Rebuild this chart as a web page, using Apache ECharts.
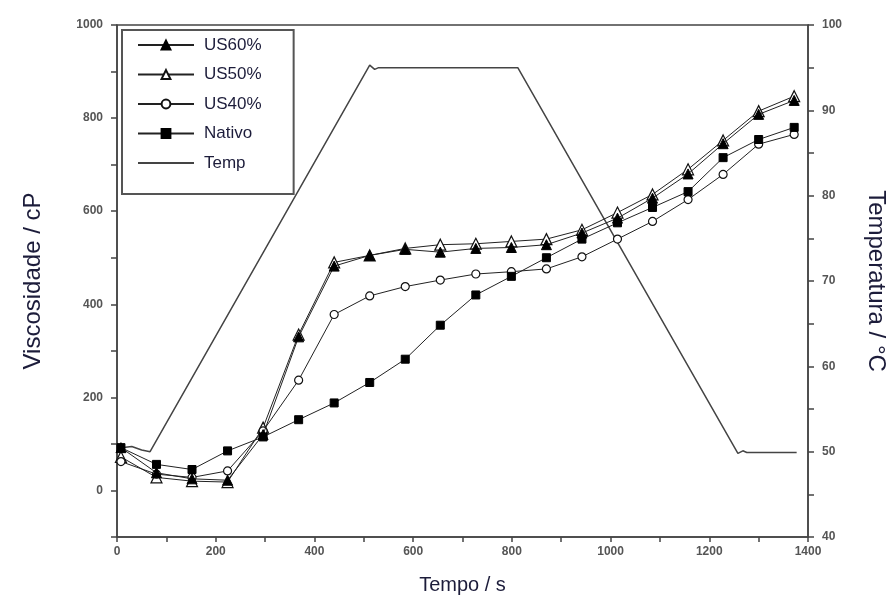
<!DOCTYPE html>
<html>
<head>
<meta charset="utf-8">
<script src="https://cdn.jsdelivr.net/npm/echarts@6/dist/echarts.min.js"></script>
<style>html,body{margin:0;padding:0;background:#fff}#c{width:894px;height:612px}</style>
</head>
<body>
<div id="c"></div>
<script>
// Time (s) for viscosity samples
const time = [8, 80, 152, 224, 296, 368, 440, 512, 584, 655, 727, 799, 870, 942, 1014, 1085, 1157, 1228, 1300, 1372];
// Viscosity (cP)
const us60 = [92, 38, 25, 22, 120, 330, 482, 505, 518, 512, 520, 522, 528, 553, 585, 628, 680, 745, 808, 838];
const us50 = [72, 28, 20, 18, 135, 335, 490, 505, 520, 528, 530, 535, 540, 560, 597, 636, 690, 752, 815, 847];
const us40 = [62, 35, 28, 42, 128, 237, 378, 418, 438, 452, 465, 470, 476, 502, 540, 578, 625, 679, 744, 765];
const nativo = [92, 56, 45, 85, 115, 152, 188, 232, 282, 355, 420, 460, 500, 540, 575, 608, 642, 715, 754, 780];
// Temperature profile
const tempTime = [0, 30, 50, 67, 512, 522, 530, 812, 1258, 1268, 1276, 1377];
const tempVal = [50.4, 50.6, 50.2, 50, 95.3, 94.8, 95, 95, 49.8, 50.1, 49.9, 49.9];
// Legend entries
const legendNames = ['US60%', 'US50%', 'US40%', 'Nativo', 'Temp'];

const pairs = (xs, ys) => xs.map((x, i) => [x, ys[i]]);
const FONT = 'Liberation Sans, Arial, sans-serif';
const AX = '#444';
const TITLE = '#1c1c3a';

const lineStyle = { color: '#222', width: 1 };

const chart = echarts.init(document.getElementById('c'));
chart.setOption({
  animation: false,
  backgroundColor: '#fff',
  grid: { left: 117, right: 86, top: 25, bottom: 75, outerBoundsMode: 'none', containLabel: false,
    show: true, borderColor: AX, borderWidth: 1.5, backgroundColor: 'transparent' },
  legend: {
    orient: 'vertical', left: 122, top: 30,
    padding: [6.5, 32, 22.5, 15],
    itemGap: 12.5, itemWidth: 56, itemHeight: 11,
    borderColor: '#555', borderWidth: 2, backgroundColor: '#fff',
    textStyle: { fontFamily: FONT, fontSize: 17, color: TITLE, padding: [0, 0, 0, 5] },
    data: legendNames.map(n => n === 'Temp' ? { name: n, itemStyle: { opacity: 0 } } : n)
  },
  xAxis: {
    type: 'value', min: 0, max: 1400, interval: 100,
    name: 'Tempo / s', nameLocation: 'middle', nameGap: 38,
    nameTextStyle: { fontFamily: FONT, fontSize: 20, color: TITLE },
    axisLine: { onZero: false, lineStyle: { color: AX, width: 1.5 } },
    axisTick: { inside: false, length: 5, lineStyle: { color: AX, width: 1.5 } },
    axisLabel: { margin: 9, fontFamily: FONT, fontSize: 12, fontWeight: 'bold', color: '#555',
      formatter: v => (v % 200 === 0 ? String(v) : '') },
    splitLine: { show: false }
  },
  yAxis: [
    {
      type: 'value', min: -100, max: 1000, interval: 100, position: 'left',
      name: 'Viscosidade / cP', nameLocation: 'middle', nameGap: 72, nameRotate: 90,
      nameTextStyle: { fontFamily: FONT, fontSize: 24, color: TITLE },
      axisLine: { show: true, onZero: false, lineStyle: { color: AX, width: 1.5 } },
      axisTick: { show: true, length: 6, lineStyle: { color: AX, width: 1.5 } },
      axisLabel: { margin: 14, fontFamily: FONT, fontSize: 12, fontWeight: 'bold', color: '#555',
        formatter: v => (v >= 0 && v % 200 === 0 ? String(v) : '') },
      splitLine: { show: false }
    },
    {
      type: 'value', min: 40, max: 100, interval: 5, position: 'right',
      name: 'Temperatura / °C', nameLocation: 'middle', nameGap: 56, nameRotate: -90,
      nameTextStyle: { fontFamily: FONT, fontSize: 24, color: TITLE },
      axisLine: { show: true, onZero: false, lineStyle: { color: AX, width: 1.5 } },
      axisTick: { show: true, length: 6, lineStyle: { color: AX, width: 1.5 } },
      axisLabel: { margin: 14, fontFamily: FONT, fontSize: 12, fontWeight: 'bold', color: '#555',
        formatter: v => (v % 10 === 0 ? String(v) : '') },
      splitLine: { show: false }
    }
  ],
  series: [
    { name: 'US60%', type: 'line', data: pairs(time, us60), symbol: 'triangle', symbolSize: 10,
      itemStyle: { color: '#000', borderColor: '#000', borderWidth: 1 }, lineStyle, z: 4 },
    { name: 'US50%', type: 'line', data: pairs(time, us50), symbol: 'triangle', symbolSize: 11,
      itemStyle: { color: '#fff', borderColor: '#111', borderWidth: 1.2 }, lineStyle, z: 3 },
    { name: 'US40%', type: 'line', data: pairs(time, us40), symbol: 'circle', symbolSize: 8,
      itemStyle: { color: '#fff', borderColor: '#111', borderWidth: 1.2 }, lineStyle, z: 3 },
    { name: 'Nativo', type: 'line', data: pairs(time, nativo), symbol: 'rect', symbolSize: 8,
      itemStyle: { color: '#000', borderColor: '#000', borderWidth: 1 }, lineStyle, z: 3 },
    { name: 'Temp', type: 'line', yAxisIndex: 1, data: pairs(tempTime, tempVal), symbol: 'none',
      itemStyle: { color: '#444' }, lineStyle: { color: '#444', width: 1.5 }, z: 2 }
  ]
});
</script>
</body>
</html>
